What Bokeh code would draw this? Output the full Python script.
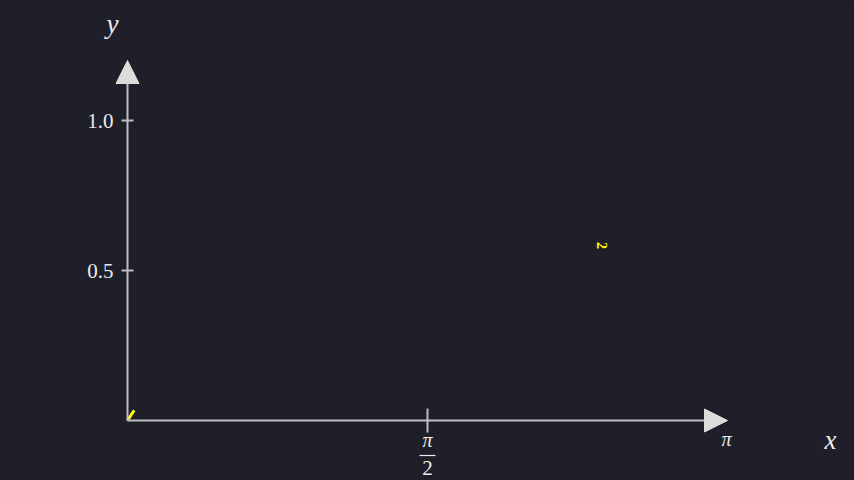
import math
from bokeh.plotting import figure
from bokeh.models import Range1d, Arrow, NormalHead
from bokeh.core.properties import value
from bokeh.embed import file_html
from bokeh.resources import INLINE

# ---- data ----
x_max = math.pi
y_max = 1.2
x_ticks = [math.pi / 2]
y_ticks = [0.5, 1.0]
y_tick_labels = ["0.5", "1.0"]
curve_x = [0.0, 0.035]
curve_y = [0.0, 0.034]
marker_label_x = [2.487]
marker_label_y = [0.583]
marker_label_text = ["2"]

BG = "#1e1f29"
AXIS = "#bdbdc4"
HEAD = "#dcdcdc"
TXT = "#ececec"
YEL = "#ffff00"
SERIF = value("Liberation Serif")

W, H = 854, 480
ox, oy = 127, 420          # origin in figure pixels (from top-left)
ux, uy = 300 / (math.pi / 2), 300.0

p = figure(width=W, height=H, output_backend="svg", toolbar_location=None,
           x_range=Range1d(-ox / ux, (W - ox) / ux),
           y_range=Range1d(-(H - oy) / uy, oy / uy),
           min_border=0, background_fill_color=BG, border_fill_color=BG)
p.axis.visible = False
p.grid.visible = False
p.outline_line_color = None

# axes with arrow heads
p.add_layout(Arrow(x_start=0, y_start=0, x_end=x_max, y_end=0,
                   line_color=AXIS, line_width=2,
                   end=NormalHead(size=23, fill_color=HEAD, line_color=HEAD)))
p.add_layout(Arrow(x_start=0, y_start=0, x_end=0, y_end=y_max,
                   line_color=AXIS, line_width=2,
                   end=NormalHead(size=23, fill_color=HEAD, line_color=HEAD)))

# ticks
p.segment(x0=x_ticks, y0=[-12 / uy] * len(x_ticks), x1=x_ticks, y1=[12 / uy] * len(x_ticks),
          line_color=AXIS, line_width=2)
p.segment(x0=[-6 / ux] * len(y_ticks), y0=y_ticks, x1=[6 / ux] * len(y_ticks), y1=y_ticks,
          line_color=AXIS, line_width=2)

# y tick labels
p.text(x=[0] * len(y_ticks), y=y_ticks, text=y_tick_labels, x_offset=-14,
       text_align="right", text_baseline="middle", text_color=TXT,
       text_font=SERIF, text_font_size="21px")

# x tick label pi/2 as a stacked fraction
p.text(x=x_ticks, y=[0] * len(x_ticks), text=["π"] * len(x_ticks), y_offset=19,
       text_align="center", text_baseline="middle", text_color=TXT,
       text_font=SERIF, text_font_style="italic", text_font_size="20px")
p.segment(x0=[t - 8 / ux for t in x_ticks], y0=[-35 / uy] * len(x_ticks),
          x1=[t + 8 / ux for t in x_ticks], y1=[-35 / uy] * len(x_ticks),
          line_color=TXT, line_width=1.2)
p.text(x=x_ticks, y=[0] * len(x_ticks), text=["2"] * len(x_ticks), y_offset=47,
       text_align="center", text_baseline="middle", text_color=TXT,
       text_font=SERIF, text_font_size="21px")

# pi label at end of x axis
p.text(x=[x_max], y=[0], text=["π"], x_offset=-1, y_offset=18,
       text_align="center", text_baseline="middle", text_color=TXT,
       text_font=SERIF, text_font_style="italic", text_font_size="20px")

# axis labels
p.text(x=[0], y=[y_max], text=["y"], x_offset=-15, y_offset=-37,
       text_align="center", text_baseline="middle", text_color=TXT,
       text_font=SERIF, text_font_style="italic", text_font_size="27px")
p.text(x=[x_max], y=[0], text=["x"], x_offset=103, y_offset=19,
       text_align="center", text_baseline="middle", text_color=TXT,
       text_font=SERIF, text_font_style="italic", text_font_size="27px")

# partially drawn curve and label
p.line(curve_x, curve_y, line_color=YEL, line_width=3)
p.text(x=marker_label_x, y=marker_label_y, text=marker_label_text, angle=-math.pi / 2,
       text_align="center", text_baseline="middle", text_color=YEL,
       text_font=SERIF, text_font_size="14px", text_font_style="bold")

html = file_html(p, INLINE)
html = html.replace("</head>", "<style>html, body { background: %s; }</style></head>" % BG, 1)
open("out.html", "w").write(html)
